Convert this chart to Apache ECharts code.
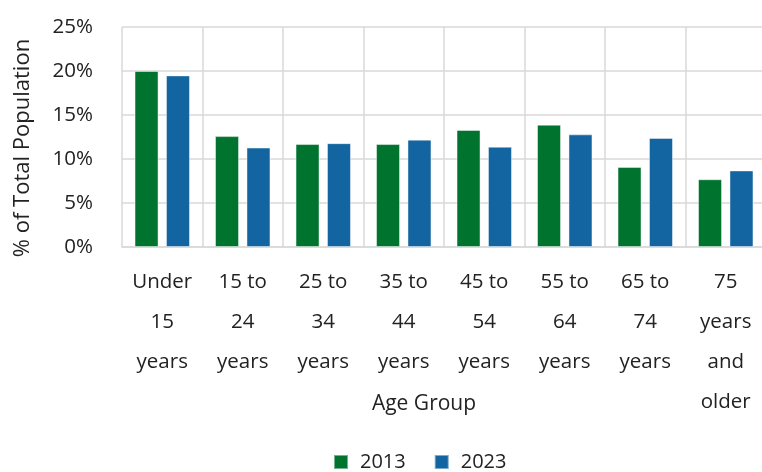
<!DOCTYPE html>
<html>
<head>
<meta charset="utf-8">
<script src="https://cdn.jsdelivr.net/npm/echarts@6/dist/echarts.min.js"></script>
<style>
  html, body { margin: 0; padding: 0; background: #fff; }
  #chart { width: 762px; height: 472px; }
</style>
</head>
<body>
<div id="chart"></div>
<script>
// Share of total population by age group, 2013 vs 2023
const ageGroups = [
  'Under\n15\nyears', '15 to\n24\nyears', '25 to\n34\nyears', '35 to\n44\nyears',
  '45 to\n54\nyears', '55 to\n64\nyears', '65 to\n74\nyears', '75\nyears\nand\nolder'
];
const share2013 = [20.0, 12.6, 11.7, 11.7, 13.3, 13.9, 9.1, 7.7];
const share2023 = [19.5, 11.3, 11.8, 12.2, 11.4, 12.8, 12.4, 8.7];
const yTicks = { min: 0, max: 25, interval: 5 };

const FONT = '"Open Sans", sans-serif';
const TEXT = '#222222';
const GRID = '#d9d9d9';

const chart = echarts.init(document.getElementById('chart'), null, { renderer: 'canvas' });
chart.setOption({
  animation: false,
  textStyle: { fontFamily: FONT, color: TEXT },
  grid: { left: 122, right: -4, top: 27, height: 220, outerBoundsMode: 'none', containLabel: false },
  legend: {
    data: ['2013', '2023'],
    left: 328,
    top: 447,
    itemWidth: 14,
    itemHeight: 14,
    itemGap: 28,
    icon: 'rect',
    textStyle: { fontFamily: FONT, fontSize: 20, color: TEXT, padding: [0, 0, 0, 7] }
  },
  xAxis: {
    type: 'category',
    data: ageGroups,
    name: 'Age Group',
    nameLocation: 'middle',
    nameGap: 147,
    nameMoveOverlap: false,
    nameTextStyle: { fontFamily: FONT, fontSize: 21, color: TEXT, padding: [0, 40, 0, 0] },
    axisLine: { show: true, lineStyle: { color: GRID, width: 1.5 } },
    axisTick: { show: false },
    splitLine: { show: true, lineStyle: { color: GRID, width: 1.5 } },
    axisLabel: {
      interval: 0,
      margin: 15,
      fontFamily: FONT,
      fontSize: 20.5,
      lineHeight: 40,
      color: TEXT
    }
  },
  yAxis: {
    type: 'value',
    min: yTicks.min,
    max: yTicks.max,
    interval: yTicks.interval,
    name: '% of Total Population',
    nameLocation: 'middle',
    nameGap: 88,
    nameRotate: 90,
    nameMoveOverlap: false,
    nameTextStyle: { fontFamily: FONT, fontSize: 22, color: TEXT, padding: [0, 22, 0, 0] },
    axisLine: { show: false },
    axisTick: { show: false },
    splitLine: { show: true, lineStyle: { color: GRID, width: 1.5 } },
    axisLabel: {
      margin: 29,
      fontFamily: FONT,
      fontSize: 20.5,
      color: TEXT,
      padding: [0, 0, 9, 0],
      formatter: '{value}%'
    }
  },
  series: [
    {
      name: '2013',
      type: 'bar',
      data: share2013,
      barWidth: 24,
      barGap: '31%',
      itemStyle: { color: '#00732f', borderColor: 'rgba(255,255,255,0.45)', borderWidth: 1 }
    },
    {
      name: '2023',
      type: 'bar',
      data: share2023,
      barWidth: 24,
      barGap: '31%',
      itemStyle: { color: '#1265a0', borderColor: 'rgba(255,255,255,0.45)', borderWidth: 1 }
    }
  ]
});
</script>
</body>
</html>
